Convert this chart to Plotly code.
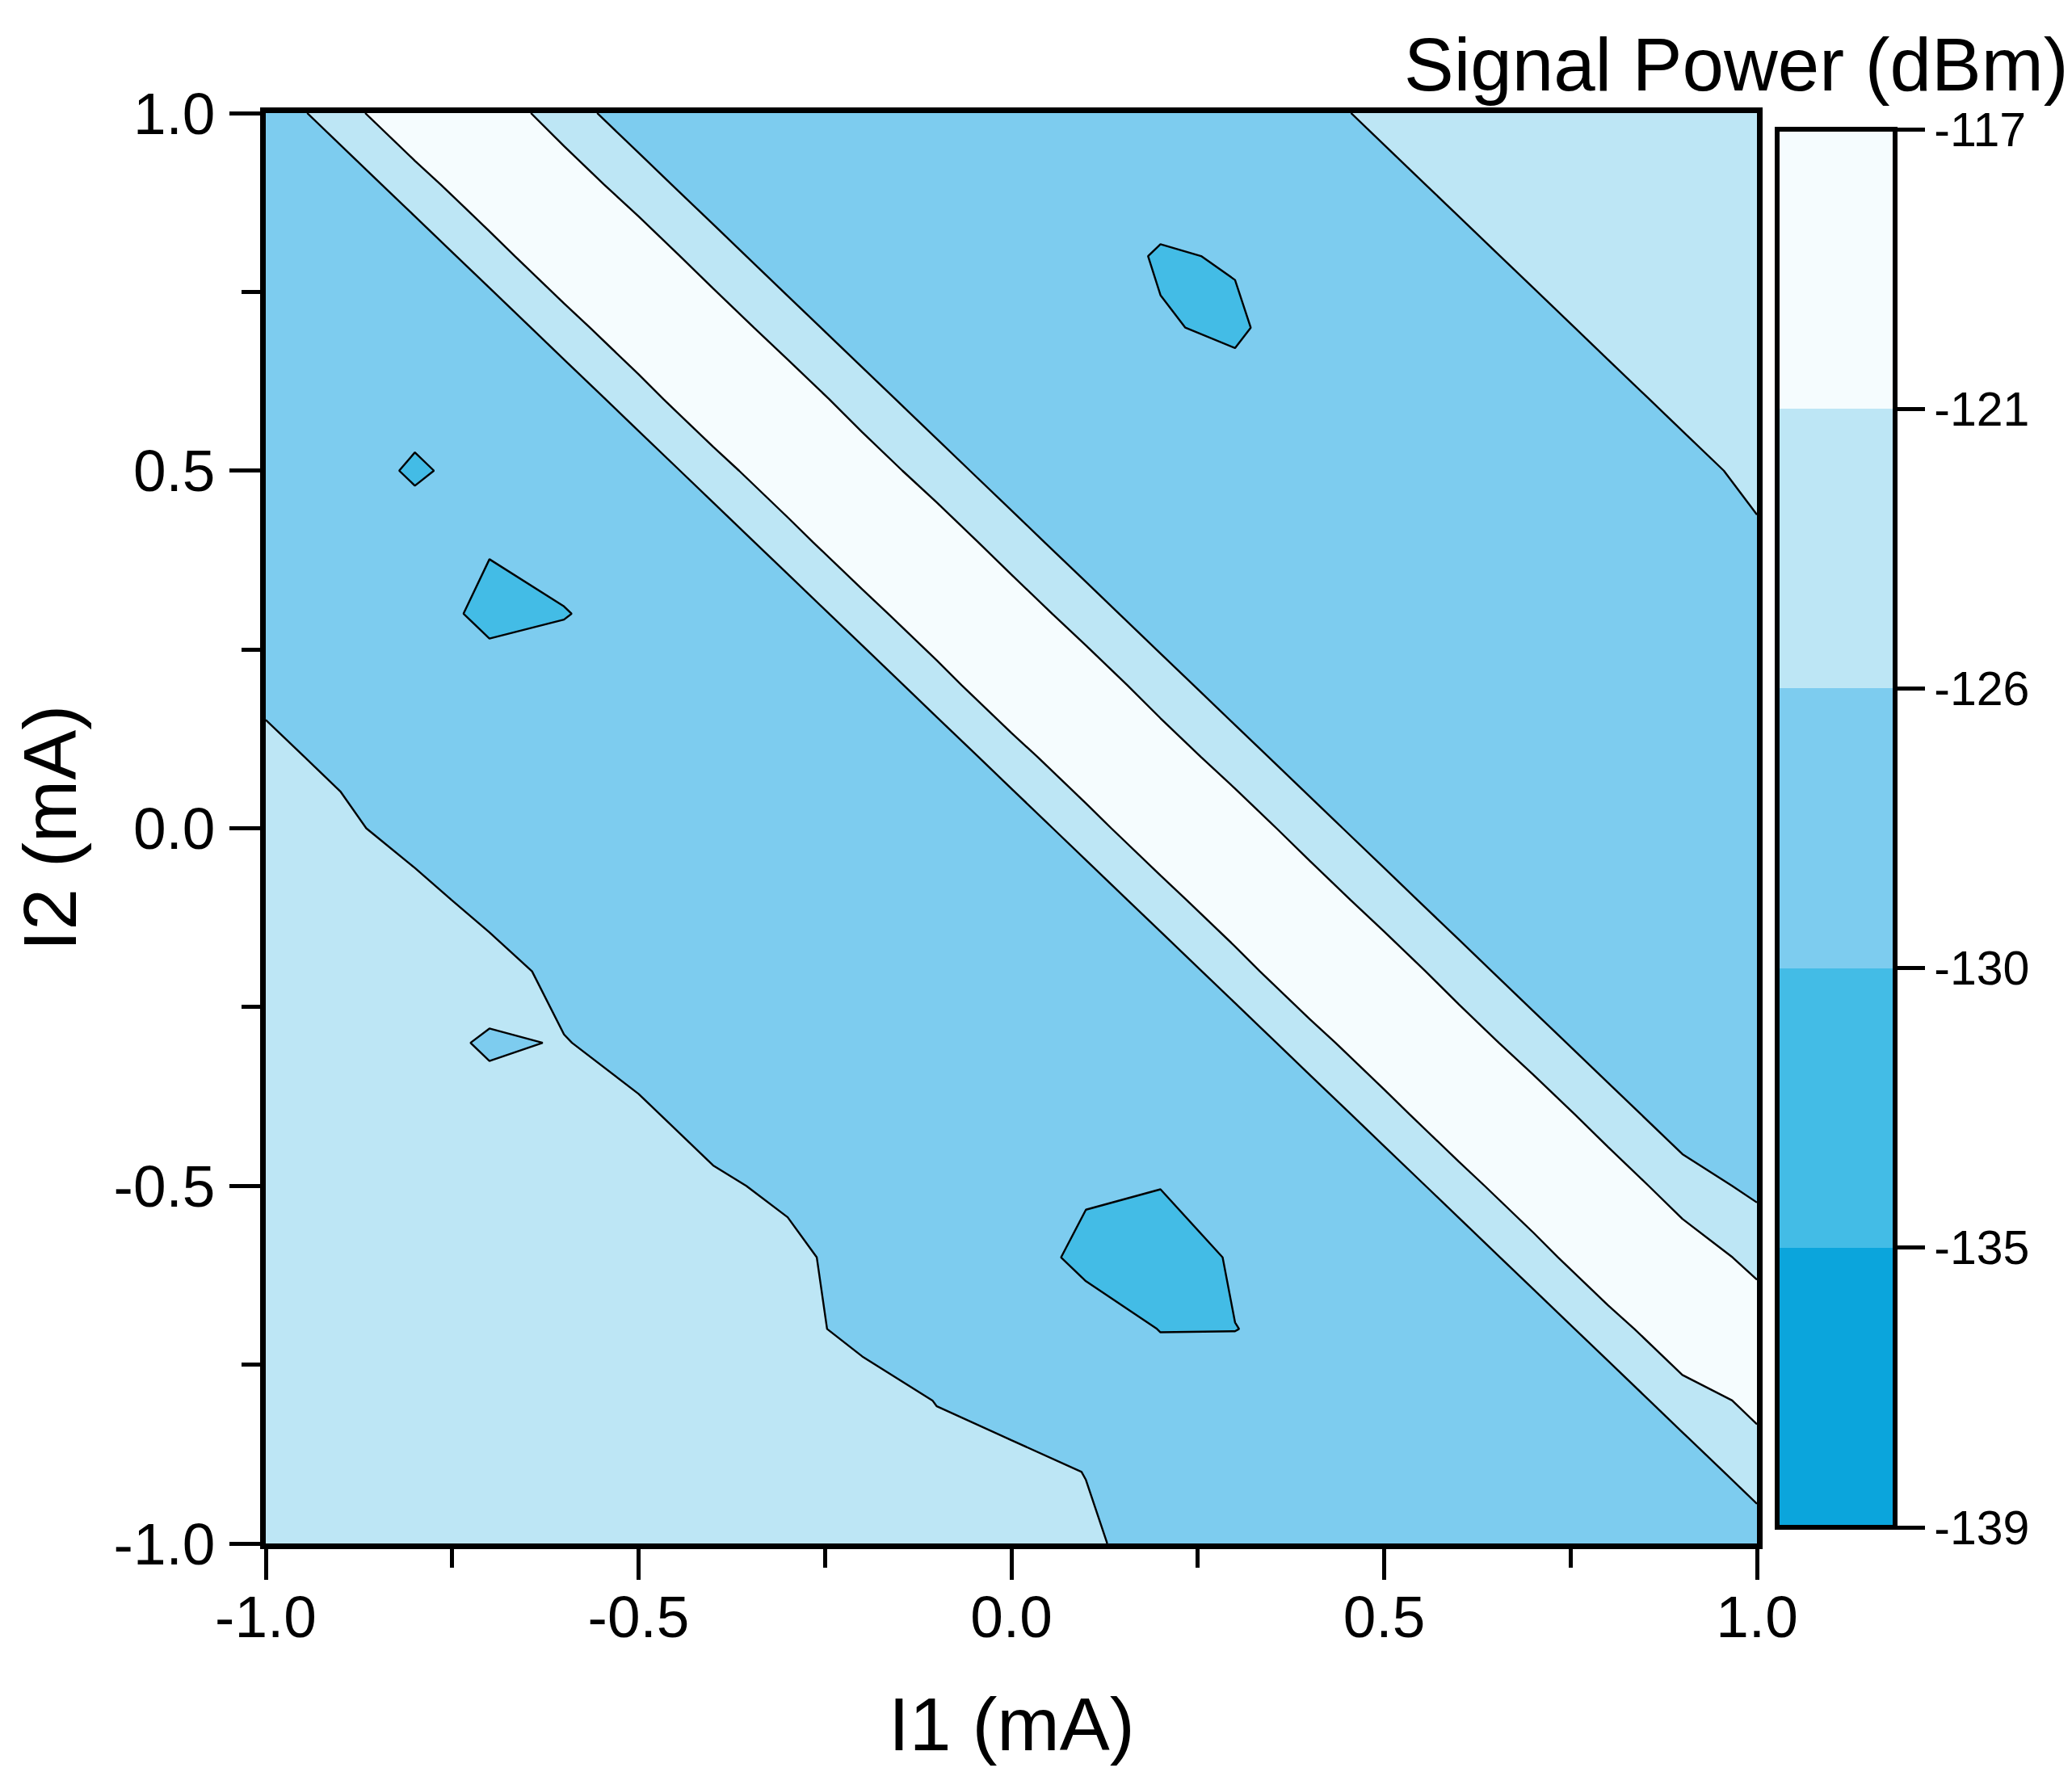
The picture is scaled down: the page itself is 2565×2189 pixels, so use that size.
import numpy as np
import plotly.graph_objects as go

# ---------------- data ----------------
i1_ma = [-1.0, -0.9, -0.8, -0.7, -0.6, -0.5, -0.4, -0.3, -0.2, -0.1, 0.0,
         0.1, 0.2, 0.3, 0.4, 0.5, 0.6, 0.7, 0.8, 0.9, 1.0]
i2_ma = [-1.0, -0.9, -0.8, -0.7, -0.6, -0.5, -0.4, -0.3, -0.2, -0.1, 0.0,
         0.1, 0.2, 0.3, 0.4, 0.5, 0.6, 0.7, 0.8, 0.9, 1.0]

# signal power (dBm); one row per I2 value (from -1.0 up to 1.0), columns follow I1
signal_dbm = [
    [-123.5, -123.6, -123.7, -123.8, -123.9, -124.0, -124.2, -124.4, -124.6, -124.9, -125.3, -125.5, -127.0, -127.8, -128.4, -128.8, -129.1, -129.3, -129.3, -129.2, -129.0],
    [-123.6, -123.7, -123.8, -123.9, -124.0, -124.2, -124.4, -124.6, -124.9, -125.3, -125.0, -126.05, -127.8, -128.4, -128.8, -129.1, -129.3, -129.3, -129.2, -129.0, -123.0],
    [-123.7, -123.8, -123.9, -124.0, -124.2, -124.4, -124.6, -124.9, -125.0, -126.05, -127.0, -127.8, -128.4, -128.8, -129.1, -129.3, -129.3, -129.2, -129.0, -123.0, -120.2],
    [-123.8, -123.9, -124.0, -124.2, -124.4, -124.6, -124.9, -125.3, -126.5, -127.0, -127.8, -128.4, -130.1, -130.05, -129.3, -129.3, -129.2, -129.0, -123.0, -118.1, -118.0],
    [-123.9, -124.0, -124.2, -124.4, -124.6, -124.9, -125.3, -125.2, -127.0, -127.8, -128.4, -131.0, -132.5, -129.6, -129.3, -129.2, -129.0, -123.0, -117.8, -118.2, -122.7],
    [-124.0, -124.2, -124.4, -124.6, -124.9, -125.3, -125.5, -126.5, -127.8, -128.4, -128.8, -129.6, -129.9, -129.3, -129.2, -129.0, -123.0, -118.0, -118.1, -124.0, -126.8],
    [-124.2, -124.4, -124.6, -124.9, -125.3, -125.5, -127.0, -127.8, -128.4, -128.8, -129.1, -129.3, -129.3, -129.2, -129.0, -123.0, -117.9, -118.0, -124.0, -128.0, -129.0],
    [-124.4, -124.6, -124.9, -126.3, -125.85, -127.0, -127.8, -128.4, -128.8, -129.1, -129.3, -129.3, -129.2, -129.0, -123.0, -118.0, -118.2, -124.0, -128.0, -129.0, -129.3],
    [-124.6, -124.9, -125.3, -124.5, -126.9, -127.8, -128.4, -128.8, -129.1, -129.3, -129.3, -129.2, -129.0, -123.0, -117.8, -118.0, -124.0, -128.0, -129.0, -129.3, -129.4],
    [-124.9, -125.3, -124.8, -127.0, -127.8, -128.4, -128.8, -129.1, -129.3, -129.3, -129.2, -129.0, -123.0, -118.0, -118.1, -124.0, -128.0, -129.0, -129.3, -129.4, -129.4],
    [-125.3, -125.2, -127.2, -127.8, -128.4, -128.8, -129.1, -129.3, -129.3, -129.2, -129.0, -123.0, -117.9, -118.0, -124.0, -128.0, -129.0, -129.3, -129.4, -129.4, -129.2],
    [-125.2, -126.6, -127.8, -128.4, -128.8, -129.1, -129.3, -129.3, -129.2, -129.0, -123.0, -118.0, -118.2, -124.0, -128.0, -129.0, -129.3, -129.4, -129.4, -129.2, -128.8],
    [-126.6, -127.8, -128.4, -128.8, -129.1, -129.3, -129.3, -129.2, -129.0, -123.0, -117.8, -118.0, -124.0, -128.0, -129.0, -129.3, -129.4, -129.4, -129.2, -128.8, -128.2],
    [-127.8, -128.4, -128.8, -130.8, -130.1, -129.3, -129.2, -129.0, -123.0, -118.0, -118.1, -124.0, -128.0, -129.0, -129.3, -129.4, -129.4, -129.2, -128.8, -128.2, -127.4],
    [-128.4, -128.8, -129.1, -129.8, -129.3, -129.2, -129.0, -123.0, -117.9, -118.0, -124.0, -128.0, -129.0, -129.3, -129.4, -129.4, -129.2, -128.8, -128.2, -127.4, -126.2],
    [-128.8, -129.1, -130.3, -129.3, -129.2, -129.0, -123.0, -118.0, -118.2, -124.0, -128.0, -129.0, -129.3, -129.4, -129.4, -129.2, -128.8, -128.2, -127.4, -126.4, -125.6],
    [-129.1, -129.3, -129.3, -129.2, -129.0, -123.0, -117.8, -118.0, -124.0, -128.0, -129.0, -129.3, -129.4, -129.0, -129.2, -128.8, -128.2, -127.4, -126.4, -125.6, -125.2],
    [-129.3, -129.3, -129.2, -129.0, -123.0, -118.0, -118.1, -124.0, -128.0, -129.0, -129.3, -129.4, -129.8, -130.5, -128.5, -128.2, -127.4, -126.4, -125.6, -125.2, -124.8],
    [-129.3, -129.2, -129.0, -123.0, -117.9, -118.0, -124.0, -128.0, -129.0, -129.3, -129.4, -128.8, -130.3, -129.8, -128.2, -127.4, -126.4, -125.6, -125.2, -124.8, -124.5],
    [-129.2, -129.0, -123.0, -118.0, -118.2, -124.0, -128.0, -129.0, -129.3, -129.4, -129.4, -129.2, -128.8, -128.2, -127.4, -126.4, -125.6, -125.2, -124.8, -124.5, -124.3],
    [-129.0, -123.0, -117.8, -118.0, -124.0, -128.0, -129.0, -129.3, -129.4, -129.4, -129.2, -128.8, -128.2, -127.4, -126.4, -125.6, -125.2, -124.8, -124.5, -124.3, -124.1],
]

level_dbm = [-139, -135, -130, -126, -121, -117]
level_labels = ["-139", "-135", "-130", "-126", "-121", "-117"]
band_colors = ["#0BA5DC", "#43BCE6", "#7DCCEF", "#BDE6F5", "#F5FCFE"]

axis_tickvals = [-1.0, -0.5, 0.0, 0.5, 1.0]
axis_ticktext = ["-1.0", "-0.5", "0.0", "0.5", "1.0"]
minor_tickvals = [-0.75, -0.25, 0.25, 0.75]

# ---------------- figure geometry (page pixels) ----------------
OFF = 8                       # default page body margin
PAGE_W, PAGE_H = 2565, 2189
X0, X1, Y0, Y1 = 329, 2175, 140, 1911   # plot area on the page
W, H = PAGE_W - OFF, PAGE_H - OFF
L, T = X0 - OFF, Y0 - OFF
R, B = PAGE_W - X1, PAGE_H - Y1
plot_w, plot_h = X1 - X0, Y1 - Y0
FONT = "Liberation Sans, Arial, sans-serif"


def px(xp):
    return (xp - X0) / plot_w


def py(yp):
    return (Y1 - yp) / plot_h


# map dBm onto equally spaced band index so the colour bar shows equal bands
level_index = list(range(len(level_dbm)))
z_index = np.interp(np.array(signal_dbm), level_dbm, level_index)

# colour scale for the filled contour (levels 1..4, band colours sampled at band centres)
fill_edges = [0.0, 0.25, 0.5, 0.75, 0.95, 1.0]
fill_scale = []
for k, c in enumerate(band_colors):
    fill_scale.append([fill_edges[k], c])
    fill_scale.append([fill_edges[k + 1], c])

# colour scale for the colour bar (five equal bands over 0..5)
nb = len(band_colors)
bar_scale = []
for k, c in enumerate(band_colors):
    bar_scale.append([k / nb, c])
    bar_scale.append([(k + 1) / nb, c])

fig = go.Figure()
fig.add_trace(go.Contour(
    x=i1_ma, y=i2_ma, z=z_index,
    autocontour=False,
    contours=dict(start=1, end=4, size=1, coloring="fill", showlines=True),
    line=dict(color="black", width=2.4, smoothing=0),
    colorscale=fill_scale,
    showscale=False,
    hoverinfo="skip",
))

# colour bar carrier (no visible marks)
fig.add_trace(go.Scatter(
    x=[None, None], y=[None, None], mode="markers",
    marker=dict(
        color=[level_index[0], level_index[-1]],
        cmin=level_index[0], cmax=level_index[-1],
        colorscale=bar_scale, showscale=True, size=0.1, opacity=0,
        colorbar=dict(
            thickness=146, thicknessmode="pixels",
            len=1731, lenmode="pixels",
            x=px(2200), xanchor="left", xpad=0,
            y=0.5, yanchor="middle", ypad=0,
            outlinewidth=6, outlinecolor="black",
            tickmode="array", tickvals=level_index, ticktext=level_labels,
            ticks="outside", ticklen=34, tickwidth=5, tickcolor="black",
            tickfont=dict(family=FONT, size=59, color="black"),
        ),
    ),
    hoverinfo="skip", showlegend=False,
))

axis_common = dict(
    range=[-1.0, 1.0],
    showgrid=False, zeroline=False,
    showline=True, linecolor="black", linewidth=7, mirror=True,
    ticks="outside", ticklen=38, tickwidth=5, tickcolor="black",
    tickmode="array", tickvals=axis_tickvals, ticktext=axis_ticktext,
    tickfont=dict(family=FONT, size=73, color="black"),
    minor=dict(ticks="outside", ticklen=23, tickwidth=5, tickcolor="black",
               tickvals=minor_tickvals),
)

fig.update_xaxes(**axis_common, ticklabelstandoff=-17)
fig.update_yaxes(**axis_common, ticklabelstandoff=3)

fig.update_layout(
    width=W, height=H,
    margin=dict(l=L, r=R, t=T, b=B, pad=0),
    paper_bgcolor="white", plot_bgcolor="white",
    font=dict(family=FONT, color="black"),
    showlegend=False,
    annotations=[
        dict(text="I1 (mA)", x=0.5, y=py(2135), xref="paper", yref="paper",
             xanchor="center", yanchor="middle", showarrow=False,
             font=dict(family=FONT, size=93, color="black")),
        dict(text="I2 (mA)", x=px(61), y=0.5, xref="paper", yref="paper",
             xanchor="center", yanchor="middle", showarrow=False, textangle=-90,
             font=dict(family=FONT, size=93, color="black")),
        dict(text="Signal Power (dBm)", x=px(2563), y=py(80),
             xref="paper", yref="paper", xanchor="right", yanchor="middle", showarrow=False,
             font=dict(family=FONT, size=92.5, color="black")),
    ],
)

fig.write_html("out.html")
